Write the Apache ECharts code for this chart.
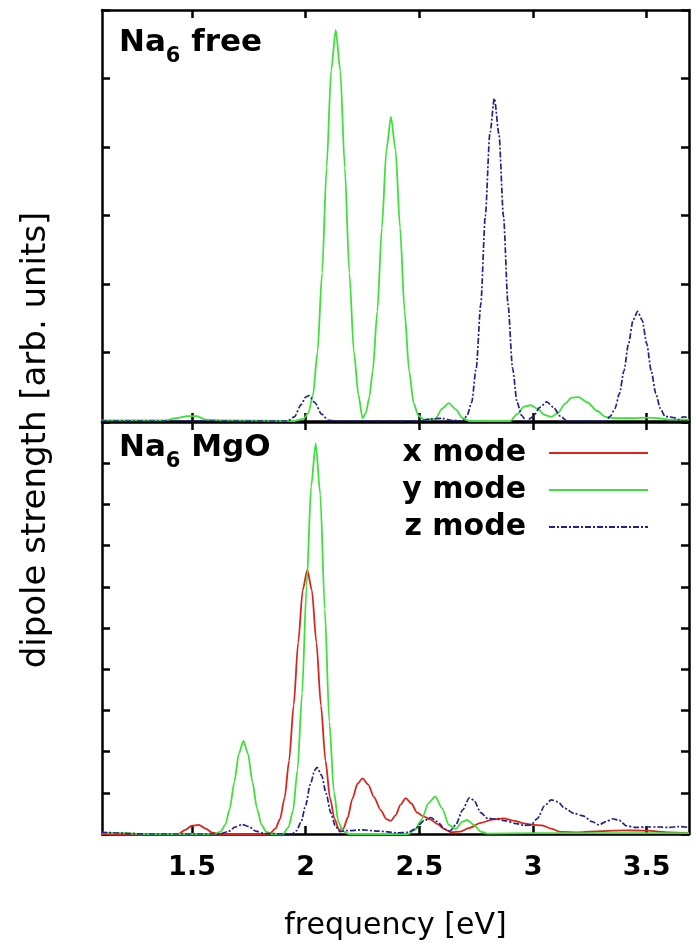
<!DOCTYPE html>
<html>
<head>
<meta charset="utf-8">
<script src="https://cdn.jsdelivr.net/npm/echarts@6/dist/echarts.min.js"></script>
<style>
html,body{margin:0;padding:0;background:#fff;}
#chart{width:696px;height:947px;}
</style>
</head>
<body>
<div id="chart"></div>
<script>
// ---- data (frequency [eV], dipole strength [arb. units]) ----
const xTicks = [1.5, 2, 2.5, 3, 3.5];
const seriesNames = ['x mode', 'y mode', 'z mode'];
const panelTitles = ['free', 'MgO'];

// Na6 free : y mode
const freeY = [[1.10,0.01],[1.38,0.01],[1.43,0.04],[1.48,0.07],[1.52,0.07],[1.56,0.02],[1.62,0.01],[1.95,0.0],[1.99,0.03],
  [2.012,0.12],[2.032,0.38],[2.052,1.01],[2.072,2.16],[2.092,3.7],[2.112,5.12],[2.132,5.71],[2.152,5.12],[2.172,3.7],
  [2.192,2.16],[2.212,1.01],[2.232,0.38],[2.25,0.04],[2.265,0.12],[2.28,0.35],[2.295,0.73],[2.315,1.6],[2.335,2.82],
  [2.355,3.96],[2.375,4.44],[2.395,3.96],[2.415,2.82],[2.435,1.6],[2.455,0.73],[2.475,0.26],[2.495,0.08],[2.52,0.02],
  [2.57,0.03],[2.60,0.18],[2.63,0.26],[2.66,0.17],[2.69,0.04],[2.72,0.0],[2.90,0.0],[2.93,0.1],[2.96,0.21],[2.99,0.23],
  [3.02,0.18],[3.05,0.09],[3.08,0.06],[3.11,0.12],[3.14,0.25],[3.17,0.34],[3.20,0.35],[3.24,0.27],[3.28,0.15],[3.32,0.06],
  [3.36,0.04],[3.45,0.04],[3.50,0.05],[3.55,0.04],[3.60,0.02],[3.686,0.02]];

// Na6 free : z mode
const freeZ = [[1.10,0],[1.92,0],[1.95,0.06],[1.98,0.24],[2.00,0.35],[2.015,0.37],[2.04,0.27],[2.07,0.1],[2.10,0.01],[2.13,0],
  [2.50,0],[2.55,0.03],[2.60,0.04],[2.64,0.01],[2.69,0.0],[2.71,0.08],[2.73,0.27],[2.75,0.77],[2.77,1.7],[2.79,2.99],
  [2.81,4.19],[2.83,4.71],[2.85,4.19],[2.87,2.99],[2.89,1.7],[2.91,0.77],[2.93,0.27],[2.95,0.08],[2.97,0.0],[3.00,0.06],
  [3.03,0.2],[3.06,0.28],[3.09,0.2],[3.12,0.07],[3.15,0.0],[3.32,0.0],[3.34,0.07],[3.36,0.18],[3.38,0.4],[3.40,0.73],
  [3.42,1.13],[3.44,1.47],[3.46,1.6],[3.48,1.47],[3.50,1.13],[3.52,0.73],[3.54,0.4],[3.56,0.18],[3.58,0.07],[3.60,0.06],
  [3.62,0.05],[3.64,0.02],[3.66,0.06],[3.686,0.05]];

// Na6 MgO : x mode
const mgoX = [[1.10,0],[1.44,0],[1.47,0.1],[1.50,0.2],[1.53,0.22],[1.56,0.13],[1.59,0.03],[1.62,0],[1.84,0],[1.867,0.13],
  [1.887,0.36],[1.907,0.87],[1.927,1.78],[1.947,3.12],[1.967,4.65],[1.987,5.92],[2.007,6.41],[2.027,5.92],[2.047,4.65],
  [2.067,3.12],[2.087,1.78],[2.107,0.87],[2.127,0.36],[2.147,0.1],[2.165,0.12],[2.185,0.4],[2.205,0.85],[2.228,1.22],
  [2.25,1.35],[2.275,1.2],[2.30,0.9],[2.33,0.58],[2.355,0.36],[2.375,0.32],[2.395,0.45],[2.418,0.72],[2.44,0.87],
  [2.465,0.74],[2.49,0.52],[2.52,0.42],[2.55,0.35],[2.58,0.24],[2.61,0.12],[2.64,0.04],[2.68,0.06],[2.72,0.15],[2.77,0.27],
  [2.82,0.35],[2.87,0.38],[2.92,0.32],[2.96,0.26],[3.00,0.22],[3.04,0.21],[3.08,0.13],[3.12,0.05],[3.20,0.04],[3.30,0.07],
  [3.40,0.09],[3.50,0.08],[3.60,0.04],[3.686,0.02]];

// Na6 MgO : y mode
const mgoY = [[1.10,0.03],[1.20,0.02],[1.30,0],[1.60,0],[1.626,0.06],[1.646,0.22],[1.666,0.61],[1.686,1.26],[1.706,1.95],
  [1.726,2.26],[1.746,1.95],[1.766,1.26],[1.786,0.61],[1.806,0.22],[1.826,0.06],[1.85,0],[1.90,0],[1.924,0.16],[1.944,0.56],
  [1.964,1.55],[1.984,3.41],[2.004,6.03],[2.024,8.44],[2.044,9.48],[2.064,8.25],[2.084,5.45],[2.104,2.72],[2.124,1.03],
  [2.144,0.29],[2.164,0.07],[2.19,0],[2.45,0],[2.48,0.1],[2.51,0.35],[2.54,0.75],[2.57,0.91],[2.60,0.62],[2.63,0.22],
  [2.66,0.12],[2.69,0.3],[2.71,0.34],[2.74,0.22],[2.77,0.06],[2.80,0.01],[3.00,0.02],[3.686,0.02]];

// Na6 MgO : z mode
const mgoZ = [[1.10,0.04],[1.16,0.03],[1.22,0.01],[1.30,0],[1.62,0],[1.66,0.06],[1.69,0.17],[1.72,0.23],[1.75,0.18],
  [1.78,0.07],[1.82,0.01],[1.94,0.0],[1.96,0.08],[1.98,0.3],[2.00,0.7],[2.02,1.2],[2.04,1.55],[2.05,1.62],[2.07,1.42],
  [2.09,0.98],[2.11,0.52],[2.13,0.2],[2.15,0.06],[2.18,0.08],[2.25,0.1],[2.32,0.07],[2.40,0.03],[2.45,0.04],[2.48,0.12],
  [2.52,0.32],[2.55,0.4],[2.58,0.3],[2.61,0.12],[2.635,0.07],[2.66,0.22],[2.69,0.58],[2.72,0.88],[2.74,0.82],[2.77,0.52],
  [2.80,0.38],[2.84,0.36],[2.88,0.32],[2.92,0.26],[2.96,0.21],[2.99,0.22],[3.02,0.38],[3.05,0.68],[3.08,0.83],[3.11,0.78],
  [3.14,0.62],[3.18,0.5],[3.22,0.44],[3.26,0.3],[3.29,0.22],[3.32,0.3],[3.35,0.37],[3.38,0.33],[3.41,0.2],[3.45,0.16],
  [3.50,0.17],[3.55,0.17],[3.60,0.16],[3.64,0.18],[3.686,0.16]];

// ---- chart ----
const X_MIN = 1.104, X_MAX = 3.686;
const BLACK = '#000';
const FONT = 'DejaVu Sans';
const COLORS = {x: '#d8261c', y: '#3ee03a', z: '#22228c'};

function xAx(gridIndex, position, showLabel, name) {
  const ax = {
    type: 'value', gridIndex: gridIndex, position: position, min: X_MIN, max: X_MAX,
    axisLine: {show: true, onZero: false, lineStyle: {color: BLACK, width: 2.5}},
    axisTick: {show: true, inside: true, length: 8, customValues: xTicks, lineStyle: {color: BLACK, width: 2.5}},
    axisLabel: {show: showLabel, customValues: xTicks, margin: 20, color: BLACK, fontFamily: FONT,
      fontWeight: 'bold', fontSize: 27, formatter: function (v) { return String(v); }},
    splitLine: {show: false}
  };
  if (name) {
    ax.name = name;
    ax.nameLocation = 'middle';
    ax.nameGap = 77;
    ax.nameTextStyle = {color: BLACK, fontFamily: FONT, fontSize: 30};
  }
  return ax;
}
function yAx(gridIndex, position, max) {
  return {
    type: 'value', gridIndex: gridIndex, position: position, min: 0, max: max, interval: 1,
    axisLine: {show: true, onZero: false, lineStyle: {color: BLACK, width: 2.5}},
    axisTick: {show: true, inside: true, length: 8, lineStyle: {color: BLACK, width: 2.5}},
    axisLabel: {show: false},
    splitLine: {show: false}
  };
}
function lineSeries(name, data, xi, yi, key) {
  const dashed = key === 'z';
  return {
    type: 'line', name: name, data: data, xAxisIndex: xi, yAxisIndex: yi,
    symbol: 'none', showSymbol: false, smooth: 0.25, smoothMonotone: 'x', clip: true, animation: false,
    lineStyle: {color: COLORS[key], width: dashed ? 1.7 : 1.8, type: dashed ? [6, 2, 2, 2] : 'solid'},
    itemStyle: {color: COLORS[key]}
  };
}
function titleRich(label) {
  return '{a|Na}{s|6}{a| ' + label + '}';
}
const richStyle = {
  a: {fontFamily: FONT, fontWeight: 'bold', fontSize: 31, lineHeight: 31, verticalAlign: 'top', fill: BLACK, color: BLACK},
  s: {fontFamily: FONT, fontWeight: 'bold', fontSize: 21, padding: [19, 0, 0, 0], verticalAlign: 'top', fill: BLACK, color: BLACK}
};

const option = {
  backgroundColor: '#fff',
  animation: false,
  grid: [
    {left: 102, right: 7, top: 10, height: 411, containLabel: false, outerBoundsMode: 'none'},
    {left: 102, right: 7, top: 422, height: 412, containLabel: false, outerBoundsMode: 'none'}
  ],
  xAxis: [
    xAx(0, 'bottom', false),
    xAx(0, 'top', false),
    xAx(1, 'bottom', true, 'frequency [eV]'),
    xAx(1, 'top', false)
  ],
  yAxis: [
    yAx(0, 'left', 6),
    yAx(0, 'right', 6),
    yAx(1, 'left', 10),
    yAx(1, 'right', 10)
  ],
  legend: {
    data: seriesNames,
    orient: 'vertical', right: 42, top: 433, align: 'right',
    itemWidth: 99, itemHeight: 14, itemGap: 7,
    itemStyle: {opacity: 0},
    textStyle: {color: BLACK, fontFamily: FONT, fontWeight: 'bold', fontSize: 30, lineHeight: 30, padding: [0, 18, 0, 0]},
    selectedMode: false
  },
  series: [
    lineSeries(seriesNames[1], freeY, 0, 0, 'y'),
    lineSeries(seriesNames[2], freeZ, 0, 0, 'z'),
    lineSeries(seriesNames[0], mgoX, 2, 2, 'x'),
    lineSeries(seriesNames[1], mgoY, 2, 2, 'y'),
    lineSeries(seriesNames[2], mgoZ, 2, 2, 'z')
  ],
  graphic: [
    {type: 'text', x: 36.5, y: 440, rotation: Math.PI / 2, z: 10,
      style: {text: 'dipole strength [arb. units]', fontFamily: FONT, fontSize: 34, fill: BLACK, align: 'center', verticalAlign: 'middle'}},
    {type: 'text', x: 119, y: 27, z: 10,
      style: {text: titleRich(panelTitles[0]), rich: richStyle, align: 'left', verticalAlign: 'top', fill: BLACK}},
    {type: 'text', x: 119, y: 432, z: 10,
      style: {text: titleRich(panelTitles[1]), rich: richStyle, align: 'left', verticalAlign: 'top', fill: BLACK}}
  ]
};

const chart = echarts.init(document.getElementById('chart'), null, {renderer: 'canvas'});
chart.setOption(option);
</script>
</body>
</html>
